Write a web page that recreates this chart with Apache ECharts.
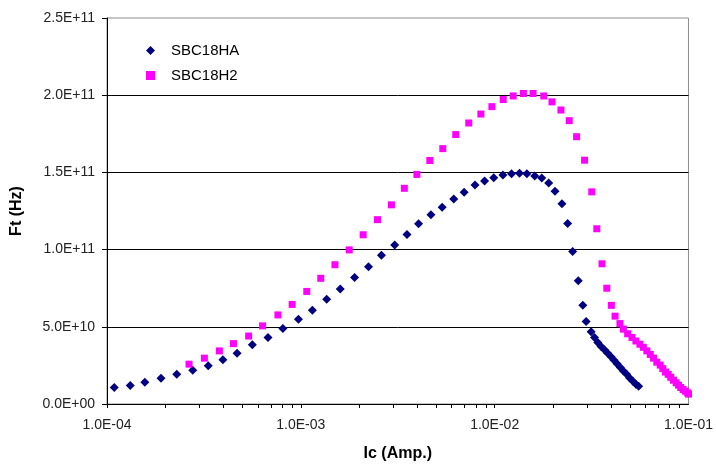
<!DOCTYPE html>
<html>
<head>
<meta charset="utf-8">
<script src="https://cdn.jsdelivr.net/npm/echarts@6/dist/echarts.min.js"></script>
<style>
  html, body { margin: 0; padding: 0; background: #fff; }
  #chart { width: 716px; height: 467px; }
</style>
</head>
<body>
<div id="chart"></div>
<script>
// collector current (A) and transit frequency (Hz)
var icHA = [1.09e-4, 1.318e-4, 1.567e-4, 1.90e-4, 2.29e-4, 2.77e-4, 3.33e-4, 3.96e-4, 4.69e-4, 5.62e-4,
  6.77e-4, 8.08e-4, 9.72e-4, 1.147e-3, 1.36e-3, 1.597e-3, 1.894e-3, 2.235e-3, 2.606e-3, 3.05e-3,
  3.53e-3, 4.05e-3, 4.69e-3, 5.36e-3, 6.15e-3, 6.96e-3, 7.92e-3, 8.87e-3, 9.89e-3, 1.103e-2,
  1.222e-2, 1.343e-2, 1.466e-2, 1.61e-2, 1.75e-2, 1.90e-2, 2.048e-2, 2.224e-2, 2.38e-2, 2.525e-2,
  2.70e-2, 2.85e-2, 2.965e-2, 3.146e-2, 3.275e-2, 3.405e-2, 3.54e-2, 3.686e-2, 3.83e-2, 3.985e-2,
  4.13e-2, 4.28e-2, 4.45e-2, 4.615e-2, 4.80e-2, 4.97e-2, 5.17e-2, 5.355e-2, 5.53e-2]
var ftHA = [1.07e10, 1.20e10, 1.41e10, 1.67e10, 1.92e10, 2.18e10, 2.48e10, 2.87e10, 3.29e10, 3.83e10,
  4.31e10, 4.89e10, 5.49e10, 6.07e10, 6.78e10, 7.45e10, 8.19e10, 8.89e10, 9.63e10, 1.030e11,
  1.098e11, 1.167e11, 1.226e11, 1.274e11, 1.327e11, 1.372e11, 1.419e11, 1.445e11, 1.466e11, 1.483e11,
  1.492e11, 1.494e11, 1.492e11, 1.476e11, 1.463e11, 1.431e11, 1.378e11, 1.297e11, 1.169e11, 9.87e10,
  7.99e10, 6.39e10, 5.34e10, 4.68e10, 4.31e10, 3.99e10, 3.72e10, 3.51e10, 3.29e10, 3.06e10,
  2.84e10, 2.61e10, 2.37e10, 2.13e10, 1.92e10, 1.69e10, 1.47e10, 1.28e10, 1.15e10]

var icH2 = [2.65e-4, 3.18e-4, 3.80e-4, 4.49e-4, 5.38e-4, 6.35e-4, 7.62e-4, 9.02e-4, 1.073e-3, 1.267e-3,
  1.50e-3, 1.777e-3, 2.097e-3, 2.486e-3, 2.934e-3, 3.42e-3, 3.97e-3, 4.63e-3, 5.40e-3, 6.30e-3,
  7.35e-3, 8.49e-3, 9.68e-3, 1.107e-2, 1.246e-2, 1.407e-2, 1.578e-2, 1.792e-2, 1.976e-2, 2.198e-2,
  2.425e-2, 2.647e-2, 2.91e-2, 3.17e-2, 3.365e-2, 3.58e-2, 3.79e-2, 4.00e-2, 4.18e-2, 4.43e-2,
  4.615e-2, 4.855e-2, 5.11e-2, 5.355e-2, 5.615e-2, 5.845e-2, 6.10e-2, 6.35e-2, 6.60e-2, 6.865e-2,
  7.145e-2, 7.37e-2, 7.61e-2, 7.86e-2, 8.10e-2, 8.365e-2, 8.64e-2, 8.88e-2, 9.12e-2, 9.38e-2,
  9.64e-2, 9.91e-2, 1.0e-1]
var ftH2 = [2.58e10, 2.97e10, 3.44e10, 3.91e10, 4.40e10, 5.06e10, 5.77e10, 6.45e10, 7.29e10, 8.14e10,
  9.02e10, 9.98e10, 1.096e11, 1.194e11, 1.290e11, 1.397e11, 1.487e11, 1.577e11, 1.654e11, 1.745e11,
  1.820e11, 1.878e11, 1.926e11, 1.972e11, 1.995e11, 2.011e11, 2.011e11, 1.995e11, 1.957e11, 1.904e11,
  1.835e11, 1.731e11, 1.579e11, 1.374e11, 1.135e11, 9.08e10, 7.50e10, 6.39e10, 5.69e10, 5.21e10,
  4.85e10, 4.55e10, 4.31e10, 4.08e10, 3.87e10, 3.67e10, 3.44e10, 3.21e10, 2.97e10, 2.71e10,
  2.52e10, 2.29e10, 2.07e10, 1.92e10, 1.73e10, 1.54e10, 1.37e10, 1.22e10, 1.07e10, 9.4e9,
  8.3e9, 7.2e9, 6.4e9]

var xDecades = [1e-4, 1e-3, 1e-2, 1e-1]
var yMax = 2.5e11
var yStep = 5e10

// decade + 2..9 ticks for the log axis
var xTicks = []
for (var d = 0; d < xDecades.length; d++) {
  xTicks.push(xDecades[d])
  if (d < xDecades.length - 1) {
    for (var k = 2; k <= 9; k++) xTicks.push(k * xDecades[d])
  }
}

function sci (v) {
  if (v === 0) return '0.0E+00'
  var e = Math.floor(Math.round(Math.log10(Math.abs(v)) * 1e6) / 1e6)
  var m = v / Math.pow(10, e)
  var ea = Math.abs(e)
  return m.toFixed(1) + 'E' + (e < 0 ? '-' : '+') + (ea < 10 ? '0' : '') + ea
}

function pairs (xs, ys) {
  return xs.map(function (x, i) { return [x, ys[i]] })
}

var myChart = echarts.init(document.getElementById('chart'))
var option = {
  animation: false,
  backgroundColor: '#fff',
  textStyle: { fontFamily: 'Arial, "Liberation Sans", sans-serif' },
  grid: {
    left: 107,
    right: 26,
    top: 18,
    bottom: 59,
    show: true,
    borderColor: '#8c8c8c',
    borderWidth: 1,
    backgroundColor: '#fff'
  },
  legend: {
    orient: 'vertical',
    left: 141,
    top: 38,
    itemWidth: 9,
    itemHeight: 9,
    itemGap: 10,
    textStyle: { fontSize: 15, color: '#000', padding: [0, 0, 0, 11] },
    data: [
      { name: 'SBC18HA', icon: 'diamond' },
      { name: 'SBC18H2', icon: 'rect' }
    ]
  },
  xAxis: {
    type: 'log',
    logBase: 10,
    min: 1e-4,
    max: 1e-1,
    name: 'Ic (Amp.)',
    nameLocation: 'middle',
    nameGap: 42,
    nameTextStyle: { fontSize: 16, fontWeight: 'bold', color: '#000' },
    axisLine: { show: true, lineStyle: { color: '#000', width: 1 } },
    axisTick: { show: true, length: 4, inside: false, customValues: xTicks, lineStyle: { color: '#000' } },
    axisLabel: { fontSize: 14, color: '#222', margin: 14, formatter: sci },
    splitLine: { show: false },
    minorTick: { show: false },
    minorSplitLine: { show: false }
  },
  yAxis: {
    type: 'value',
    min: 0,
    max: yMax,
    interval: yStep,
    name: 'Ft (Hz)',
    nameLocation: 'middle',
    nameRotate: 90,
    nameGap: 82,
    nameTextStyle: { fontSize: 16, fontWeight: 'bold', color: '#000' },
    axisLine: { show: true, lineStyle: { color: '#000', width: 1 } },
    axisTick: { show: true, length: 5, lineStyle: { color: '#000' } },
    axisLabel: { fontSize: 14, color: '#222', margin: 12, formatter: sci },
    splitLine: { show: true, showMaxLine: false, lineStyle: { color: '#000', width: 1 } }
  },
  series: [
    {
      name: 'SBC18HA',
      type: 'scatter',
      symbol: 'diamond',
      symbolSize: 9,
      clip: false,
      itemStyle: { color: '#000080', opacity: 1 },
      emphasis: { disabled: true },
      data: pairs(icHA, ftHA)
    },
    {
      name: 'SBC18H2',
      type: 'scatter',
      symbol: 'rect',
      symbolSize: 7,
      clip: false,
      itemStyle: { color: '#FF00FF', opacity: 1 },
      emphasis: { disabled: true },
      data: pairs(icH2, ftH2)
    }
  ]
}
myChart.setOption(option)
</script>
</body>
</html>
